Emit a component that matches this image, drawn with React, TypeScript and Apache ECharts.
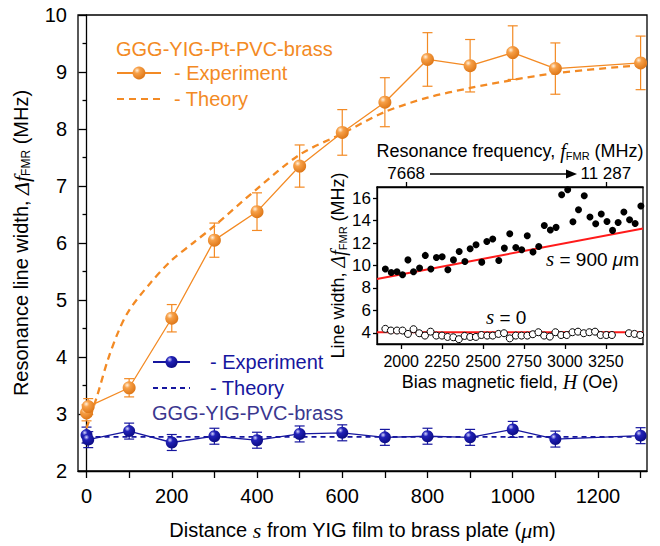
import React, { useEffect, useRef } from "react";
import * as echarts from "echarts";

// ---------- main chart data ----------
const sExp = [0, 4, 100, 200, 300, 400, 500, 600, 700, 800, 900, 1000, 1100, 1300];
const ptExp = [3.02, 3.13, 3.46, 4.68, 6.05, 6.55, 7.35, 7.94, 8.47, 9.22, 9.11, 9.34, 9.06, 9.16];
const ptErr = [0.14, 0.14, 0.16, 0.24, 0.3, 0.33, 0.37, 0.4, 0.43, 0.47, 0.46, 0.47, 0.45, 0.47];
const sTheoryPt = [0, 25, 50, 75, 100, 150, 200, 250, 300, 400, 500, 600, 700, 800, 900, 1000, 1100, 1300];
const ptTheory = [2.75, 3.32, 3.95, 4.45, 4.82, 5.3, 5.7, 6.0, 6.3, 6.95, 7.55, 7.92, 8.3, 8.55, 8.72, 8.86, 8.98, 9.12];
const noPtExp = [2.63, 2.55, 2.7, 2.5, 2.61, 2.54, 2.65, 2.67, 2.59, 2.61, 2.59, 2.73, 2.56, 2.62];
const noPtErr = [0.14, 0.14, 0.14, 0.14, 0.14, 0.14, 0.14, 0.14, 0.14, 0.14, 0.14, 0.14, 0.14, 0.14];
const sTheoryNoPt = [0, 1300];
const noPtTheory = [2.6, 2.6];
const xTicks = [0, 100, 200, 300, 400, 500, 600, 700, 800, 900, 1000, 1100, 1200, 1300];
const xLabels = [0, 200, 400, 600, 800, 1000, 1200];

// ---------- inset data ----------
const hFilled = [1903, 1939, 1974, 2008, 2041, 2075, 2112, 2147, 2181, 2215, 2250, 2285, 2319, 2354, 2389, 2421, 2457, 2492, 2523, 2559, 2596, 2630, 2663, 2700, 2736, 2770, 2805, 2840, 2874, 2911, 2946, 2980, 3017, 3049, 3083, 3118, 3153, 3188, 3222, 3257, 3291, 3325, 3360, 3395, 3429, 3464];
const lw900 = [9.68, 9.38, 9.44, 9.17, 10.5, 9.44, 9.77, 10.9, 9.68, 10.71, 10.78, 9.62, 10.5, 11.25, 10.36, 11.5, 11.85, 10.3, 12.14, 12.36, 10.45, 11.55, 12.83, 11.6, 11.4, 12.65, 11.2, 11.7, 13.57, 13.16, 13.4, 16.31, 16.76, 13.9, 14.97, 16.22, 14.32, 13.72, 14.59, 13.93, 13.13, 13.84, 14.77, 14.08, 13.75, 15.3];
const hOpen = [1903, 1937, 1974, 2008, 2041, 2075, 2110, 2145, 2179, 2214, 2249, 2283, 2318, 2352, 2387, 2421, 2456, 2490, 2525, 2559, 2594, 2628, 2663, 2700, 2735, 2770, 2804, 2838, 2873, 2908, 2942, 2977, 3011, 3046, 3080, 3115, 3149, 3184, 3218, 3253, 3287, 3391, 3425, 3460];
const lw0 = [4.35, 4.2, 4.2, 4.2, 3.9, 4.32, 3.96, 3.75, 4.1, 3.75, 3.75, 3.63, 3.6, 3.43, 3.72, 3.63, 3.63, 3.8, 3.75, 3.75, 3.9, 3.96, 3.5, 3.75, 3.75, 3.75, 3.87, 4.05, 3.75, 3.66, 4.05, 3.8, 3.8, 4.05, 4.1, 3.96, 4.05, 4.1, 3.8, 3.8, 3.8, 3.96, 3.9, 3.8];
const fitH = [1852, 3477];
const fit900 = [8.8, 13.3];
const fit0 = [4.05, 4.05];
const hTicks = [2000, 2250, 2500, 2750, 3000, 3250];
const lwTicks = [4, 6, 8, 10, 12, 14, 16];
const freqTickH = [2030, 3250];
const freqLabels = ["7668", "11 287"];

const ORANGE = "#F38A24";
const BLUE = "#16169E";
const BLUE_TITLE = "#3B378F";
const RED = "#FF1A1A";
const SANS = "'Liberation Sans', Arial, sans-serif";
const SERIF = "'Liberation Serif', 'Times New Roman', serif";

const zip = (a: number[], b: number[]) => a.map((v, i) => [v, b[i]]);
const plain = (v: number) => String(v);

function errorBars(s: number[], v: number[], e: number[], color: string) {
  return {
    type: "custom",
    xAxisIndex: 0,
    yAxisIndex: 0,
    silent: true,
    z: 2,
    data: s.map((x, i) => [x, v[i] - e[i], v[i] + e[i]]),
    encode: { x: 0, y: [1, 2] },
    renderItem: (_p: any, api: any) => {
      const x = api.value(0);
      const lo = api.coord([x, api.value(1)]);
      const hi = api.coord([x, api.value(2)]);
      const w = 5;
      const style = { stroke: color, lineWidth: 1.2, fill: null };
      return {
        type: "group",
        children: [
          { type: "line", shape: { x1: lo[0], y1: lo[1], x2: hi[0], y2: hi[1] }, style },
          { type: "line", shape: { x1: lo[0] - w, y1: lo[1], x2: lo[0] + w, y2: lo[1] }, style },
          { type: "line", shape: { x1: hi[0] - w, y1: hi[1], x2: hi[0] + w, y2: hi[1] }, style },
        ],
      };
    },
  };
}

export default function App() {
  const ref = useRef<HTMLDivElement>(null);
  useEffect(() => {
    if (!ref.current) return;
    const chart = echarts.init(ref.current, undefined, { renderer: "svg" });
    const orangeBall = new echarts.graphic.RadialGradient(0.35, 0.3, 0.75, [
      { offset: 0, color: "#FFF1DE" },
      { offset: 0.3, color: "#F7A048" },
      { offset: 1, color: "#DC7414" },
    ]);
    const blueBall = new echarts.graphic.RadialGradient(0.35, 0.3, 0.75, [
      { offset: 0, color: "#D8D8FF" },
      { offset: 0.3, color: "#2222B8" },
      { offset: 1, color: "#0A0A80" },
    ]);
    const axisLineStyle = { color: "#000", width: 1.3 };
    const subRich = (size: number) => ({
      t: { fontFamily: SANS, fontSize: size, color: "#000" },
      i: { fontFamily: SERIF, fontStyle: "italic", fontSize: size + 2, color: "#000" },
      s: { fontFamily: SANS, fontSize: Math.round(size * 0.6), color: "#000", verticalAlign: "bottom", lineHeight: Math.round(size * 0.6) },
    });

    const option: any = {
      animation: false,
      backgroundColor: "#fff",
      textStyle: { fontFamily: SANS },
      title: [
        { text: "GGG-YIG-Pt-PVC-brass", left: 116, top: 39, padding: 0, textStyle: { color: ORANGE, fontSize: 20, fontWeight: "normal", fontFamily: SANS } },
        { text: "GGG-YIG-PVC-brass", left: 152, top: 403, padding: 0, textStyle: { color: BLUE_TITLE, fontSize: 20, fontWeight: "normal", fontFamily: SANS } },
      ],
      legend: [
        {
          data: ["Pt Experiment", { name: "Pt Theory", itemStyle: { opacity: 0 } }],
          orient: "vertical",
          left: 116,
          top: 63,
          padding: 0,
          itemWidth: 44,
          itemHeight: 16,
          itemGap: 6,
          formatter: (n: string) => (n.indexOf("Experiment") >= 0 ? "- Experiment" : "- Theory"),
          textStyle: { color: ORANGE, fontSize: 20, fontFamily: SANS, padding: [0, 0, 0, 8] },
          selectedMode: false,
        },
        {
          data: ["Exp", { name: "Theo", itemStyle: { opacity: 0 } }],
          orient: "vertical",
          left: 152,
          top: 352,
          padding: 0,
          itemWidth: 37,
          itemHeight: 15,
          itemGap: 6,
          formatter: (n: string) => (n === "Exp" ? "- Experiment" : "- Theory"),
          textStyle: { color: BLUE, fontSize: 20, fontFamily: SANS, padding: [0, 0, 0, 15] },
          selectedMode: false,
        },
      ],
      grid: [
        { left: 78, top: 15, width: 569, height: 456, show: true, borderColor: "#000", borderWidth: 1.3, backgroundColor: "transparent" },
        { left: 377, top: 187, width: 266, height: 157, show: true, borderColor: "#000", borderWidth: 1.3, backgroundColor: "transparent" },
      ],
      xAxis: [
        {
          gridIndex: 0,
          type: "value",
          min: -20,
          max: 1315,
          axisLine: { show: true, lineStyle: axisLineStyle },
          axisTick: { show: true, length: 7, lineStyle: axisLineStyle, customValues: xTicks },
          axisLabel: { color: "#000", fontSize: 20, fontFamily: SANS, margin: 15, customValues: xLabels, formatter: plain },
          splitLine: { show: false },
          name: "{t|Distance }{i|s}{t| from YIG film to brass plate (}{i|μ}{t|m)}",
          nameLocation: "middle",
          nameGap: 48,
          nameTextStyle: { rich: subRich(20) },
        },
        {
          gridIndex: 1,
          type: "value",
          min: 1852,
          max: 3477,
          axisLine: { show: true, lineStyle: axisLineStyle },
          axisTick: { show: true, length: 5, lineStyle: axisLineStyle, customValues: hTicks },
          axisLabel: { color: "#000", fontSize: 16, fontFamily: SANS, margin: 9, customValues: hTicks, formatter: plain, hideOverlap: false, showMinLabel: true, showMaxLabel: true },
          splitLine: { show: false },
          name: "{t|Bias magnetic field, }{i|H}{t| (Oe)}",
          nameLocation: "middle",
          nameGap: 28,
          nameTextStyle: { rich: subRich(18) },
        },
        {
          gridIndex: 1,
          type: "value",
          position: "top",
          min: 1852,
          max: 3477,
          axisLine: { show: true, lineStyle: axisLineStyle },
          axisTick: { show: true, length: 5, lineStyle: axisLineStyle, customValues: freqTickH },
          axisLabel: {
            color: "#000",
            fontSize: 17,
            fontFamily: SANS,
            margin: 5,
            customValues: freqTickH,
            hideOverlap: false,
            formatter: (v: number) => freqLabels[freqTickH.indexOf(v)] ?? "",
          },
          splitLine: { show: false },
          name: "{t|Resonance frequency, }{i|f}{s|FMR}{t| (MHz)}",
          nameLocation: "middle",
          nameGap: 26,
          nameTextStyle: { rich: subRich(18) },
        },
      ],
      yAxis: [
        {
          gridIndex: 0,
          type: "value",
          min: 2,
          max: 10,
          interval: 1,
          axisLine: { show: true, lineStyle: axisLineStyle },
          axisTick: { show: true, length: 8, lineStyle: axisLineStyle },
          minorTick: { show: true, splitNumber: 2, length: 4, lineStyle: axisLineStyle },
          axisLabel: { color: "#000", fontSize: 20, fontFamily: SANS, margin: 11, formatter: plain },
          splitLine: { show: false },
          minorSplitLine: { show: false },
          name: "{t|Resonance line width, }{i|Δf}{s|FMR}{t| (MHz)}",
          nameLocation: "middle",
          nameGap: 46,
          nameTextStyle: { rich: subRich(20) },
        },
        {
          gridIndex: 1,
          type: "value",
          min: 3,
          max: 17,
          axisLine: { show: true, lineStyle: axisLineStyle },
          axisTick: { show: true, length: 4, lineStyle: axisLineStyle, customValues: lwTicks },
          axisLabel: { color: "#000", fontSize: 17, fontFamily: SANS, margin: 6, customValues: lwTicks, formatter: plain, hideOverlap: false },
          splitLine: { show: false },
          name: "{t|Line width, }{i|Δf}{s|FMR}{t| (MHz)}",
          nameLocation: "middle",
          nameGap: 26,
          nameTextStyle: { rich: subRich(18) },
        },
      ],
      graphic: [
        { type: "line", shape: { x1: 430, y1: 174, x2: 568, y2: 174 }, style: { stroke: "#000", lineWidth: 1.3 } },
        { type: "polygon", shape: { points: [[566, 169.5], [577, 174], [566, 178.5]] }, style: { fill: "#000" } },
        {
          type: "text",
          x: 546,
          y: 259,
          style: {
            text: "{i|s}{t| = 900 }{m|μ}{t|m}",
            verticalAlign: "middle",
            rich: {
              t: { fontFamily: SANS, fontSize: 19, fill: "#000" },
              i: { fontFamily: SERIF, fontStyle: "italic", fontSize: 21, fill: "#000" },
              m: { fontFamily: SANS, fontStyle: "italic", fontSize: 19, fill: "#000" },
            },
          },
        },
        {
          type: "text",
          x: 486,
          y: 317,
          style: {
            text: "{i|s}{t| = 0}",
            verticalAlign: "middle",
            rich: {
              t: { fontFamily: SANS, fontSize: 19, fill: "#000" },
              i: { fontFamily: SERIF, fontStyle: "italic", fontSize: 21, fill: "#000" },
            },
          },
        },
      ],
      series: [
        errorBars(sExp, ptExp, ptErr, ORANGE),
        errorBars(sExp, noPtExp, noPtErr, BLUE),
        {
          name: "Pt Theory",
          type: "line",
          xAxisIndex: 0,
          yAxisIndex: 0,
          data: zip(sTheoryPt, ptTheory),
          smooth: 0.3,
          symbol: "none",
          lineStyle: { color: ORANGE, width: 2.3, type: [7, 5] },
          itemStyle: { color: ORANGE },
          z: 3,
        },
        {
          name: "Theo",
          type: "line",
          xAxisIndex: 0,
          yAxisIndex: 0,
          data: zip(sTheoryNoPt, noPtTheory),
          symbol: "none",
          lineStyle: { color: BLUE, width: 1.8, type: [5, 4] },
          itemStyle: { color: BLUE },
          z: 3,
        },
        {
          name: "Pt Experiment",
          type: "line",
          xAxisIndex: 0,
          yAxisIndex: 0,
          data: zip(sExp, ptExp),
          symbol: "circle",
          symbolSize: 13,
          lineStyle: { color: ORANGE, width: 1.3 },
          itemStyle: { color: orangeBall, borderWidth: 0 },
          z: 4,
        },
        {
          name: "Exp",
          type: "line",
          xAxisIndex: 0,
          yAxisIndex: 0,
          data: zip(sExp, noPtExp),
          symbol: "circle",
          symbolSize: 12,
          lineStyle: { color: BLUE, width: 1.3 },
          itemStyle: { color: blueBall, borderWidth: 0 },
          z: 4,
        },
        {
          name: "fit900",
          type: "line",
          xAxisIndex: 1,
          yAxisIndex: 1,
          data: zip(fitH, fit900),
          symbol: "none",
          lineStyle: { color: RED, width: 2 },
          z: 2,
        },
        {
          name: "fit0",
          type: "line",
          xAxisIndex: 1,
          yAxisIndex: 1,
          data: zip(fitH, fit0),
          symbol: "none",
          lineStyle: { color: RED, width: 2 },
          z: 2,
        },
        {
          name: "s900",
          type: "scatter",
          xAxisIndex: 1,
          yAxisIndex: 1,
          data: zip(hFilled, lw900),
          symbol: "circle",
          symbolSize: 7,
          itemStyle: { color: "#000", opacity: 1 },
          z: 4,
        },
        {
          name: "s0",
          type: "scatter",
          xAxisIndex: 1,
          yAxisIndex: 1,
          data: zip(hOpen, lw0),
          symbol: "circle",
          symbolSize: 7,
          itemStyle: { color: "#fff", borderColor: "#000", borderWidth: 1, opacity: 1 },
          z: 4,
        },
      ],
    };
    chart.setOption(option);
    return () => chart.dispose();
  }, []);
  return <div ref={ref} style={{ position: "fixed", left: 0, top: 0, width: 660, height: 546 }} />;
}
